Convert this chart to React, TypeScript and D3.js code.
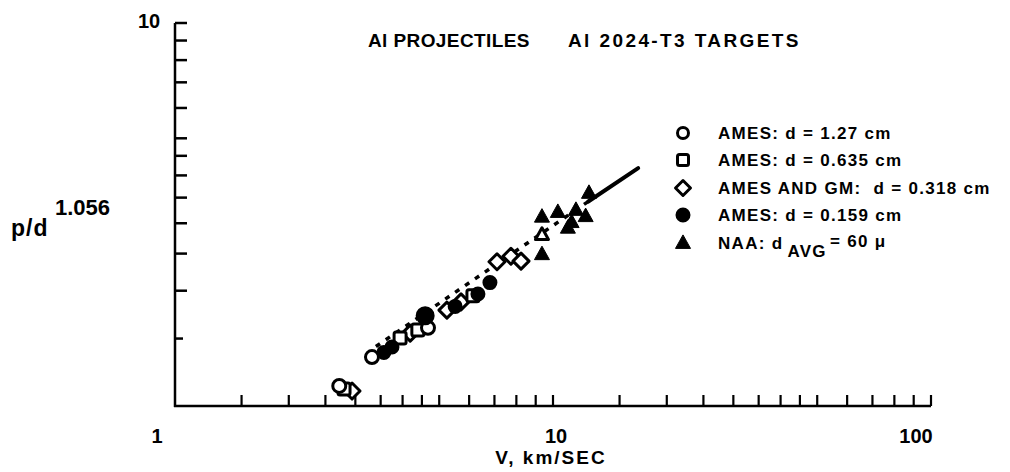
import React from "react";
import * as d3 from "d3";

// ---- data (V in km/s, p/d^1.056) ----
const openCircleV = [2.72, 3.32, 4.67];
const openCircleP = [1.128, 1.342, 1.6];

const openSquareV = [2.8, 3.94, 4.39, 6.14];
const openSquareP = [1.108, 1.505, 1.58, 1.94];

const openDiamondV = [2.94, 4.19, 5.24, 5.71, 7.11, 7.74, 8.23];
const openDiamondP = [1.094, 1.55, 1.78, 1.87, 2.38, 2.46, 2.39];

const filledCircleV = [3.57, 3.75, 4.59, 5.51, 6.33, 6.81];
const filledCircleP = [1.38, 1.426, 1.72, 1.82, 1.96, 2.1];

const triangleV = [9.35, 10.3, 11.5, 12.2, 10.95, 11.2, 9.35, 12.45];
const triangleP = [3.12, 3.21, 3.25, 3.13, 2.92, 3.02, 2.49, 3.6];

const openTriangleV = [9.35];
const openTriangleP = [2.8];

const fitDashedV = [3.4, 12.4];
const fitDashedP = [1.43, 3.42];
const fitSolidV = [12.4, 16.8];
const fitSolidP = [3.42, 4.18];

const xTickValues = [1.5, 2, 2.5, 3, 3.5, 4, 4.5, 5, 6, 7, 8, 9, 10, 15, 20, 25, 30, 35, 40, 45, 50, 60, 70, 80, 90, 100];
const yTickValues = [1.5, 2, 2.5, 3, 3.5, 4, 4.5, 5, 6, 7, 8, 9, 10];
const xTickLabels = ["1", "10", "100"];
const xTickLabelShift = [-18, 3, -15];
const yTickLabels = ["10"];

const legendLabels = [
  "AMES: d = 1.27 cm",
  "AMES: d = 0.635 cm",
  "AMES AND GM:  d = 0.318 cm",
  "AMES: d = 0.159 cm",
];

const FONT = "'Liberation Sans', Arial, Helvetica, sans-serif";

export default function App() {
  const x = d3.scaleLog().domain([1, 100]).range([175, 931]);
  const y = d3.scaleLog().domain([1, 10]).range([406, 23]);
  const line = d3
    .line<[number, number]>()
    .x((d) => x(d[0]))
    .y((d) => y(d[1]));

  const zip = (a: number[], b: number[]) => a.map((v, i) => [v, b[i]] as [number, number]);

  const circle = (cx: number, cy: number, r: number, filled: boolean, key: string) => (
    <circle key={key} cx={cx} cy={cy} r={r} fill={filled ? "#000" : "#fff"} stroke="#000" strokeWidth={3} />
  );
  const square = (cx: number, cy: number, s: number, key: string) => (
    <rect key={key} x={cx - s / 2} y={cy - s / 2} width={s} height={s} rx={2} fill="#fff" stroke="#000" strokeWidth={3} />
  );
  const diamond = (cx: number, cy: number, h: number, key: string) => (
    <path key={key} d={`M${cx},${cy - h}L${cx + h},${cy}L${cx},${cy + h}L${cx - h},${cy}Z`} fill="#fff" stroke="#000" strokeWidth={3} strokeLinejoin="round" />
  );
  const triangle = (cx: number, cy: number, s: number, filled: boolean, key: string) => {
    const h = s * 0.9;
    return (
      <path
        key={key}
        d={`M${cx},${cy - h * 0.6}L${cx + s / 2},${cy + h * 0.4}L${cx - s / 2},${cy + h * 0.4}Z`}
        fill={filled ? "#000" : "#fff"}
        stroke="#000"
        strokeWidth={filled ? 1 : 3}
        strokeLinejoin="round"
      />
    );
  };

  const legendY = [133, 160, 188, 215, 243];
  const legendX = 683;
  const legendFont = { fontSize: 17, fontWeight: "bold" as const, letterSpacing: 1.3 };

  return (
    <svg width={1010} height={472} style={{ position: "absolute", left: 0, top: 0, background: "#fff" }} fontFamily={FONT}>
      <rect width={1010} height={472} fill="#fff" />
      {/* axes */}
      <line x1={175} y1={y(10)} x2={175} y2={y(1) + 1} stroke="#000" strokeWidth={2.5} />
      <line x1={174} y1={y(1)} x2={x(100)} y2={y(1)} stroke="#000" strokeWidth={2.5} />
      {yTickValues.map((t) => (
        <line key={"yt" + t} x1={175} x2={t === 1.5 ? 183 : 187} y1={y(t)} y2={y(t)} stroke="#000" strokeWidth={2.5} />
      ))}
      {xTickValues.map((t) => (
        <line key={"xt" + t} x1={x(t)} x2={x(t)} y1={y(1)} y2={y(1) - 11} stroke="#000" strokeWidth={2.2} />
      ))}
      {/* tick labels */}
      {xTickLabels.map((l, i) => (
        <text key={"xl" + l} x={x(+l) + xTickLabelShift[i]} y={443} textAnchor="middle" fontSize={20} fontWeight="bold">
          {l}
        </text>
      ))}
      {yTickLabels.map((l) => (
        <text key={"yl" + l} x={149} y={y(+l) + 5} textAnchor="middle" fontSize={20} fontWeight="bold">
          {l}
        </text>
      ))}
      <text x={551} y={464} textAnchor="middle" fontSize={19} fontWeight="bold" letterSpacing={2}>
        V, km/SEC
      </text>
      <text x={11} y={236} fontSize={23} fontWeight="bold" letterSpacing={1}>
        p/d
      </text>
      <text x={55} y={215} fontSize={22} fontWeight="bold">
        1.056
      </text>
      {/* title */}
      <text x={368} y={47} fontSize={19} fontWeight="bold" letterSpacing={0.4}>
        Al PROJECTILES
      </text>
      <text x={568} y={47} fontSize={19} fontWeight="bold" letterSpacing={2.4}>
        Al 2024-T3 TARGETS
      </text>

      {/* fit line */}
      <path d={line(zip(fitDashedV, fitDashedP)) || ""} fill="none" stroke="#000" strokeWidth={3.5} strokeDasharray="5,7" />
      <path d={line(zip(fitSolidV, fitSolidP)) || ""} fill="none" stroke="#000" strokeWidth={4} strokeLinecap="round" />

      {/* data */}
      {zip(triangleV, triangleP).map((d, i) => triangle(x(d[0]), y(d[1]), 15, true, "tr" + i))}
      {zip(openTriangleV, openTriangleP).map((d, i) => triangle(x(d[0]), y(d[1]), 13, false, "otr" + i))}
      {zip(openDiamondV, openDiamondP).map((d, i) => diamond(x(d[0]), y(d[1]), 8, "dm" + i))}
      {zip(openSquareV, openSquareP).map((d, i) => square(x(d[0]), y(d[1]), 12, "sq" + i))}
      {zip(openCircleV, openCircleP).map((d, i) => circle(x(d[0]), y(d[1]), 6.5, false, "oc" + i))}
      {zip(filledCircleV, filledCircleP).map((d, i) => circle(x(d[0]), y(d[1]), i === 2 ? 8 : 6, true, "fc" + i))}

      {/* legend */}
      {circle(legendX, legendY[0], 5.5, false, "lg0")}
      {square(legendX, legendY[1], 11, "lg1")}
      {diamond(legendX, legendY[2], 7.5, "lg2")}
      {circle(legendX, legendY[3], 6, true, "lg3")}
      {triangle(legendX, legendY[4], 15, true, "lg4")}
      {legendLabels.map((l, i) => (
        <text key={"lt" + i} x={718} y={legendY[i] + 6} {...legendFont} style={{ whiteSpace: "pre" }}>
          {l}
        </text>
      ))}
      <text x={718} y={legendY[4] + 6} {...legendFont}>
        NAA: d
        <tspan dx={4} dy={8}>AVG</tspan>
        <tspan dx={3} dy={-10}>= 60 μ</tspan>
      </text>
    </svg>
  );
}
